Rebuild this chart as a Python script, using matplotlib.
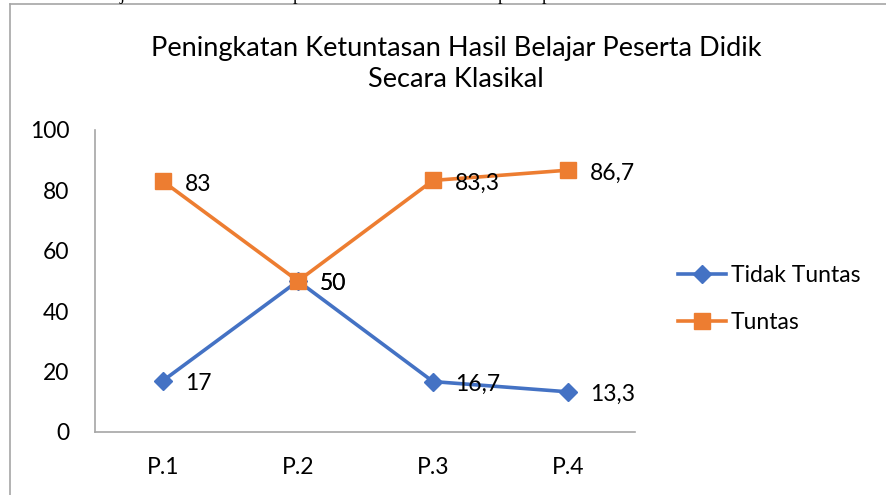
import matplotlib
matplotlib.use("Agg")
import matplotlib.pyplot as plt
from matplotlib.lines import Line2D

categories = ["P.1", "P.2", "P.3", "P.4"]
tidak_tuntas = [17, 50, 16.7, 13.3]
tuntas = [83, 50, 83.3, 86.7]
tidak_labels = ["17", "50", "16,7", "13,3"]
tuntas_labels = ["83", "50", "83,3", "86,7"]
title = "Peningkatan Ketuntasan Hasil Belajar Peserta Didik\nSecara Klasikal"

BLUE = "#4472C4"
ORANGE = "#ED7D31"
W, H = 887, 495
FS = 16.5

plt.rcParams['font.family'] = ['Lato', 'DejaVu Sans']

fig = plt.figure(figsize=(W / 100, H / 100), dpi=100)
fig.patch.set_facecolor("white")

# document frame around the chart (only top and left edges are inside the crop)
fig.add_artist(Line2D([10 / W, 10 / W], [0, 1 - 4 / H], transform=fig.transFigure,
                      color="#A6A6A6", lw=1.2))
fig.add_artist(Line2D([10 / W, 1], [1 - 4 / H, 1 - 4 / H], transform=fig.transFigure,
                      color="#A6A6A6", lw=1.2))
# descenders of the document line cut off above the chart
for ch, px in [("j", 122), ("p", 297), ("p", 502), ("p", 546)]:
    fig.text(px / W, 1 + 0.5 / H, ch, family="Liberation Serif", fontsize=13,
             ha="center", va="baseline", color="black")

ax = fig.add_axes([95.5 / W, 1 - 432 / H, 540 / W, 302 / H])
x = list(range(len(categories)))
ax.plot(x, tidak_tuntas, color=BLUE, lw=2.6, marker="D", ms=9.5, label="Tidak Tuntas", zorder=3)
ax.plot(x, tuntas, color=ORANGE, lw=2.6, marker="s", ms=11, label="Tuntas", zorder=3)

for xi, v, lab in zip(x, tidak_tuntas, tidak_labels):
    ax.annotate(lab, (xi, v), xytext=(16, -2), textcoords="offset points",
                ha="left", va="center", fontsize=FS, color="black", zorder=4)
for xi, v, lab in zip(x, tuntas, tuntas_labels):
    ax.annotate(lab, (xi, v), xytext=(16, -2), textcoords="offset points",
                ha="left", va="center", fontsize=FS, color="black", zorder=4)

ax.set_xlim(-0.5, len(categories) - 0.5)
ax.set_ylim(0, 100)
ax.set_yticks(range(0, 101, 20))
ax.set_xticks(x)
ax.set_xticklabels(categories)
ax.tick_params(axis="both", length=0, labelsize=FS, colors="black")
ax.tick_params(axis="y", pad=19)
ax.tick_params(axis="x", pad=18)
for s in ["top", "right"]:
    ax.spines[s].set_visible(False)
for s in ["left", "bottom"]:
    ax.spines[s].set_color("#A6A6A6")
    ax.spines[s].set_linewidth(1.2)

fig.text(456 / W, 1 - 64 / H, title, ha="center", va="center", fontsize=19.5,
         linespacing=1.32, color="black")

ax.legend(loc="center left", bbox_to_anchor=(678 / W, 1 - 299 / H), bbox_transform=fig.transFigure,
          frameon=False, fontsize=FS, handlelength=2.1, handletextpad=0.2, labelspacing=1.15,
          borderaxespad=0, borderpad=0)

fig.savefig("out.png", dpi=100)
